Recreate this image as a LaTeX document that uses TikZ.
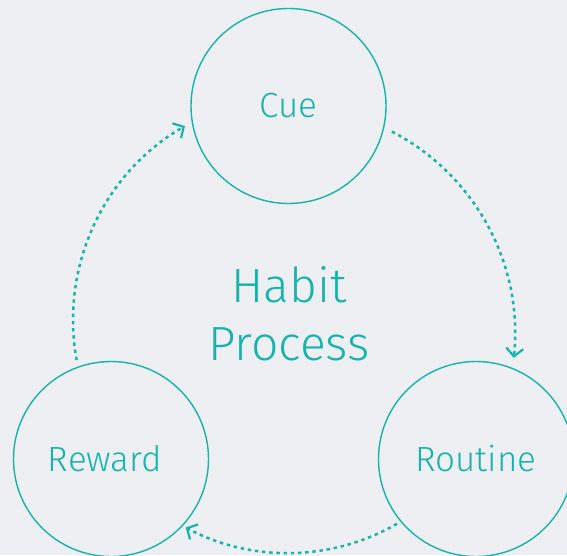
\documentclass[tikz,border=0pt]{standalone}
\usepackage{fontspec}
\setmainfont{Fira Sans}[UprightFont=* Light]
\usetikzlibrary{arrows.meta,calc}
\definecolor{bg}{HTML}{EDEFF3}
\definecolor{teal}{HTML}{17B3AC}
\tikzset{
  stage/.style={circle, draw=teal, line width=1.4pt, minimum size=195pt, inner sep=0pt, text=teal, font=\fontsize{35}{40}\selectfont},
  flow/.style={draw=teal, line width=2.5pt, dash pattern=on 3.4pt off 3.8pt, -{Straight Barb[length=8pt,width=17pt,line width=2.2pt]}},
  title/.style={text=teal, align=center, font=\fontsize{48}{58}\selectfont}
}
\begin{document}
\begin{tikzpicture}[x=1pt,y=1pt]
\fill[bg] (0,0) rectangle (567,555);
\useasboundingbox (0,0) rectangle (567,555);
\node[stage] (cue) at (288.5,449) {Cue};
\node[stage] (reward) at (111,96) {Reward\hspace*{12pt}};
\node[stage] (routine) at (476,96) {Routine};
\node[title] (habit) at (289,241) {Habit\\Process};
\coordinate (c1) at (287,221);
\coordinate (c2) at (288,220);
\coordinate (c3) at (297,235);
\coordinate (s1) at ($(c1)+(62.6:228)$);
\coordinate (s2) at ($(c2)+(-60:218)$);
\coordinate (s3) at ($(c3)+(190.3:224)$);
\draw[flow] (s1) arc[start angle=62.6, end angle=-6, radius=228];
\draw[flow] (s2) arc[start angle=-60, end angle=-118, radius=218];
\draw[flow] (s3) arc[start angle=190.3, end angle=120, radius=224];
\end{tikzpicture}
\end{document}
